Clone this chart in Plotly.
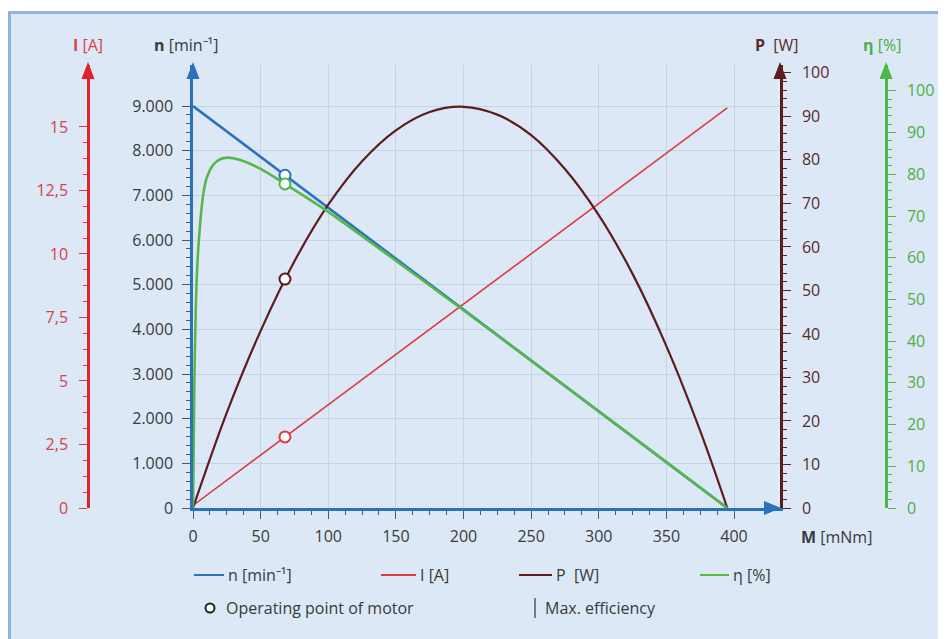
import plotly.graph_objects as go

# the page puts the figure 8px in from the top-left corner, so everything
# below is given in window pixels and shifted by OFF
OFF = 8
W, H = 946 - OFF, 639 - OFF
ML, MR, MT, MB = 80, 60, 57, 131
PW, PH = W - ML - MR, H - MT - MB


def px(x):
    return (x - OFF - ML) / PW


def py(y):
    return (H - MB - (y - OFF)) / PH


# ---- data (torque M in mNm) ----
m_lin = [0, 395]
speed = [9000, 0]          # n [min-1]
current = [0.1, 15.75]     # I [A]

m_pow = [0, 25, 50, 75, 100, 125, 150, 175, 200, 225, 250, 275, 300, 325, 350, 375, 395]
power = [0, 21.9, 40.7, 56.7, 69.7, 79.7, 86.8, 91.0, 92.2, 90.4, 85.7, 77.9, 67.3, 53.8, 37.2, 17.7, 0]

m_eff = [0, 1, 2, 3, 4.5, 7.5, 10, 15, 20, 26, 35, 50, 68, 100, 150, 200, 250, 300, 350, 395]
eff = [0, 30, 47, 57, 65, 75, 79, 82.3, 83.6, 84, 83.4, 81.3, 77.7, 71, 59.3, 47.4, 35.3, 23.2, 11, 0]

m_op = 68
op_speed, op_current, op_power, op_eff = 7450, 2.8, 52.6, 77.7
m_max_eff = 26

x_ticks = [0, 50, 100, 150, 200, 250, 300, 350, 400]
n_ticks = [0, 1000, 2000, 3000, 4000, 5000, 6000, 7000, 8000, 9000]
i_ticks = [0, 2.5, 5, 7.5, 10, 12.5, 15]
p_ticks = [0, 10, 20, 30, 40, 50, 60, 70, 80, 90, 100]
e_ticks = [0, 10, 20, 30, 40, 50, 60, 70, 80, 90, 100]

BLUE = "#2b71bd"
RED = "#dc3b3f"
BROWN = "#5e1d1d"
GREEN = "#55b848"
GRID = "#c5d3e5"
BG = "#dce8f6"
DARK = "#3a3a3a"
FONT = "Open Sans"

fig = go.Figure()

fig.add_trace(go.Scatter(x=m_lin, y=current, yaxis="y2", mode="lines",
                         line=dict(color=RED, width=1.6)))
fig.add_trace(go.Scatter(x=m_pow, y=power, yaxis="y3", mode="lines",
                         line=dict(color=BROWN, width=2.2, shape="spline")))
fig.add_trace(go.Scatter(x=m_eff, y=eff, yaxis="y4", mode="lines",
                         line=dict(color=GREEN, width=2.6, shape="spline", smoothing=0.8)))
fig.add_trace(go.Scatter(x=m_lin, y=speed, yaxis="y", mode="lines",
                         line=dict(color=BLUE, width=2.6)))

# operating point markers
for val, ax, col in [(op_current, "y2", RED), (op_power, "y3", BROWN),
                     (op_eff, "y4", GREEN), (op_speed, "y", BLUE)]:
    fig.add_trace(go.Scatter(x=[m_op], y=[val], yaxis=ax, mode="markers",
                             marker=dict(size=11, color="white", line=dict(color=col, width=2)),
                             cliponaxis=False))

# max efficiency line
fig.add_shape(type="line", xref="x", yref="paper", x0=m_max_eff, x1=m_max_eff,
              y0=0, y1=py(68), line=dict(color="#3d4650", width=1.3), layer="below")

# background panel with border
fig.add_shape(type="rect", xref="paper", yref="paper", x0=px(9.5), x1=px(960), y0=py(660), y1=py(12.5),
              fillcolor=BG, line=dict(color="#8db4e3", width=3), layer="below")


def tri_up(x, col, tip=62, base=79, half=6.5):
    path = "M {},{} L {},{} L {},{} Z".format(px(x - half), py(base), px(x), py(tip), px(x + half), py(base))
    fig.add_shape(type="path", xref="paper", yref="paper", path=path, fillcolor=col, line=dict(width=0))


tri_up(88, "#e0232b")
tri_up(193, BLUE)
tri_up(780, BROWN)
tri_up(886, "#4cb848")
fig.add_shape(type="path", xref="paper", yref="paper",
              path="M {},{} L {},{} L {},{} Z".format(px(764), py(501), px(781), py(508), px(764), py(515)),
              fillcolor=BLUE, line=dict(width=0))

tickfont = dict(family=FONT, size=16, color=DARK)


def minor(vals, col):
    return dict(tickmode="array", tickvals=vals, ticks="outside", ticklen=4, tickwidth=1,
                tickcolor=col, showgrid=False)


fig.update_layout(
    width=W, height=H,
    margin=dict(l=ML, r=MR, t=MT, b=MB),
    paper_bgcolor="white", plot_bgcolor="rgba(0,0,0,0)",
    showlegend=False, separators=",.",
    font=dict(family=FONT, size=16, color=DARK),
    xaxis=dict(domain=[px(193), px(780)], range=[0, 434], tickmode="array", tickvals=x_ticks,
               showgrid=True, gridcolor=GRID, gridwidth=1, zeroline=False,
               showline=True, linecolor=BLUE, linewidth=2.5,
               ticks="outside", ticklen=8, tickwidth=1.2, tickcolor="#4a5868",
               ticklabelstandoff=4, tickfont=tickfont, automargin=False,
               minor=minor([v * 12.5 for v in range(33)], "#4a5868")),
    yaxis=dict(range=[0, 9918], tickmode="array", tickvals=n_ticks, tickformat=",d",
               showgrid=True, gridcolor=GRID, gridwidth=1, zeroline=False,
               showline=True, linecolor=BLUE, linewidth=2.5,
               ticks="outside", ticklen=8, tickwidth=1.2, tickcolor="#4a5868",
               ticklabelstandoff=6, tickfont=tickfont, automargin=False,
               minor=minor([v * 200 for v in range(46)], "#4a5868")),
    yaxis2=dict(overlaying="y", anchor="free", position=0, side="left",
                range=[0, 17.44], tickmode="array", tickvals=i_ticks,
                showgrid=False, zeroline=False, showline=True, linecolor="#e0232b", linewidth=2.5,
                ticks="outside", ticklen=8, tickwidth=1.2, tickcolor=RED,
                ticklabelstandoff=8, tickfont=dict(family=FONT, size=16, color="#d6424a"),
                automargin=False, minor=minor([v * 0.625 for v in range(25)], RED)),
    yaxis3=dict(overlaying="y", anchor="x", side="right",
                range=[0, 101.8], tickmode="array", tickvals=p_ticks,
                showgrid=False, zeroline=False, showline=True, linecolor=BROWN, linewidth=2.5,
                ticks="outside", ticklen=8, tickwidth=1.2, tickcolor=BROWN,
                ticklabelstandoff=8, tickfont=dict(family=FONT, size=16, color="#5a2a2a"),
                automargin=False, minor=minor([v * 2 for v in range(51)], BROWN)),
    yaxis4=dict(overlaying="y", anchor="free", position=1, side="right",
                range=[0, 106.2], tickmode="array", tickvals=e_ticks,
                showgrid=False, zeroline=False, showline=True, linecolor="#4cb848", linewidth=2.5,
                ticks="outside", ticklen=8, tickwidth=1.2, tickcolor=GREEN,
                ticklabelstandoff=8, tickfont=dict(family=FONT, size=16, color="#4caf45"),
                automargin=False, minor=minor([v * 2 for v in range(51)], GREEN)),
)

# axis titles
titles = [
    ("<b>I</b> [A]", 88, 45, "#d6424a"),
    ("<b>n</b> [min⁻¹]", 186, 45, DARK),
    ("<b>P</b>\u00a0 [W]", 777, 45, "#5a2a2a"),
    ("<b>η</b> [%]", 882, 45, "#4caf45"),
    ("<b>M</b> [mNm]", 836, 537, DARK),
]
for txt, x, y, col in titles:
    fig.add_annotation(text=txt, x=px(x), y=py(y), xref="paper", yref="paper", showarrow=False,
                       xanchor="center", yanchor="middle", font=dict(family=FONT, size=16, color=col))

# legend (drawn by hand to match the layout)
legend_items = [
    ("n [min⁻¹]", BLUE, 194, 224),
    ("I [A]", RED, 381, 416),
    ("P\u00a0 [W]", BROWN, 519, 552),
    ("η [%]", GREEN, 700, 729),
]
for txt, col, x0, x1 in legend_items:
    fig.add_shape(type="line", xref="paper", yref="paper", x0=px(x0), x1=px(x1), y0=py(575), y1=py(575),
                  line=dict(color=col, width=2))
    fig.add_annotation(text=txt, x=px(x1 + 2), y=py(575), xref="paper", yref="paper", showarrow=False,
                       xanchor="left", yanchor="middle", font=dict(family=FONT, size=16, color=DARK))

fig.add_shape(type="circle", xref="paper", yref="paper", x0=px(205.5), x1=px(214.5), y0=py(603.5), y1=py(612.5),
              line=dict(color="#222222", width=2), fillcolor="white")
fig.add_annotation(text="Operating point of motor", x=px(224), y=py(608), xref="paper", yref="paper",
                   showarrow=False, xanchor="left", yanchor="middle", font=dict(family=FONT, size=16, color=DARK))
fig.add_shape(type="line", xref="paper", yref="paper", x0=px(535), x1=px(535), y0=py(598), y1=py(618),
              line=dict(color="#3d4650", width=1.3))
fig.add_annotation(text="Max. efficiency", x=px(543), y=py(608), xref="paper", yref="paper",
                   showarrow=False, xanchor="left", yanchor="middle", font=dict(family=FONT, size=16, color=DARK))

fig.write_html("out.html")
